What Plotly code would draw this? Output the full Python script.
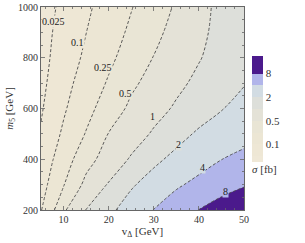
import numpy as np
import plotly.graph_objects as go

# ---------------- data ----------------
v_delta = [5, 7.5, 10, 15, 20, 25, 30, 35, 40, 45, 50]          # GeV
m5 = [200, 300, 400, 500, 600, 700, 800, 900, 1000]              # GeV
# sigma [fb]; rows follow m5, columns follow v_delta
sigma_fb = [
    [0.094, 0.207, 0.455, 1.02, 1.73, 2.69, 4.06, 5.73, 8.1, 11.0, 14.5],
    [0.060, 0.129, 0.238, 0.60, 1.05, 1.85, 2.64, 3.66, 4.73, 5.97, 7.5],
    [0.0416, 0.094, 0.159, 0.39, 0.68, 1.07, 1.73, 2.39, 3.07, 3.97, 4.7],
    [0.029, 0.065, 0.113, 0.26, 0.51, 0.74, 1.08, 1.59, 2.2, 2.73, 3.2],
    [0.0214, 0.048, 0.0857, 0.185, 0.354, 0.57, 0.79, 1.09, 1.46, 1.94, 2.5],
    [0.0165, 0.037, 0.066, 0.143, 0.268, 0.444, 0.63, 0.86, 1.16, 1.52, 1.93],
    [0.0131, 0.0295, 0.0525, 0.115, 0.207, 0.336, 0.51, 0.70, 0.96, 1.31, 1.72],
    [0.011, 0.0247, 0.0439, 0.0987, 0.17, 0.28, 0.43, 0.61, 0.86, 1.23, 1.62],
    [0.0095, 0.0214, 0.0344, 0.080, 0.145, 0.24, 0.36, 0.54, 0.80, 1.2, 1.54],
]
contour_levels = [0.025, 0.1, 0.25, 0.5, 1, 2, 4, 8]
level_labels = ["0.025", "0.1", "0.25", "0.5", "1", "2", "4", "8"]
colorbar_tick_values = [8, 2, 0.5, 0.1]
colorbar_tick_text = ["8", "2", "0.5", "0.1"]

# positions of the inline contour labels (data coords)
label_v = [7.7, 13.0, 18.7, 23.8, 29.8, 35.4, 40.7, 46.0]
label_m = [941, 862, 760, 661, 567, 460, 366, 272]

# band colours: below 0.025, 0.025-0.1, ..., 4-8, above 8
band_colors = ["#EFE8D7", "#EEE7D5", "#ECE6D4", "#E9E5D5", "#E4E2D7",
               "#DDDFDA", "#D2DCE3", "#B1B5EA", "#4B1A8C"]

# ---------------- map sigma to contour-level index ----------------
lv = np.log(np.array(contour_levels, dtype=float))
idx = np.arange(len(contour_levels), dtype=float)


def to_index(s):
    ls = np.log(np.asarray(s, dtype=float))
    out = np.interp(ls, lv, idx)
    lo = ls < lv[0]
    out[lo] = (ls[lo] - lv[0]) / (lv[1] - lv[0])
    hi = ls > lv[-1]
    out[hi] = idx[-1] + (ls[hi] - lv[-1]) / (lv[-1] - lv[-2])
    return out


z = to_index(sigma_fb)

# contour levels 0..8 (index 8 is an extra, empty level so the bar spans like the original)
cols = band_colors + [band_colors[-1]]
cs = []
for j, c in enumerate(cols):
    a = max(0.0, (j - 0.5) / 9)
    b = min(1.0, (j + 0.5) / 9)
    cs.append([a + (1e-6 if j > 0 else 0), c])
    cs.append([b, c])

cb_tickvals = [float(to_index([t])[0]) for t in colorbar_tick_values]

FONT = "Liberation Serif, Times New Roman, serif"
LINE_COL = "#4a4a4a"

fig = go.Figure()
# filled bands (no lines, so the colour bar has no line marks)
fig.add_trace(go.Contour(
    x=v_delta, y=m5, z=z,
    autocontour=False,
    contours=dict(start=0, end=8, size=1, coloring="fill", showlabels=False),
    line=dict(width=0, smoothing=1.0),
    colorscale=cs,
    hoverinfo="skip",
    colorbar=dict(
        x=1.04, xanchor="left", xpad=0,
        y=0.759, yanchor="top", ypad=0,
        len=0.605, lenmode="fraction",
        thickness=11, outlinewidth=0,
        tickvals=cb_tickvals, ticktext=colorbar_tick_text,
        ticks="", ticklabelposition="outside",
        tickfont=dict(family=FONT, size=11, color="#333333"),
        title=dict(text="<i>σ</i> [fb]", side="bottom",
                   font=dict(family=FONT, size=11, color="#333333")),
    ),
))
# dashed contour lines
fig.add_trace(go.Contour(
    x=v_delta, y=m5, z=z,
    autocontour=False,
    contours=dict(start=0, end=7, size=1, coloring="lines", showlabels=False),
    line=dict(color=LINE_COL, width=0.9, dash="3px,2px", smoothing=1.0),
    colorscale=[[0, LINE_COL], [1, LINE_COL]],
    showscale=False,
    hoverinfo="skip",
))

# inline contour labels
label_bg = ["#EFE8D7", "#EEE7D5", "#ECE6D4", "#E9E5D5", "#E4E2D7",
            "#DDDFDA", "#D2DCE3", "#B1B5EA"]
for t, xv, yv, bg in zip(level_labels, label_v, label_m, label_bg):
    fig.add_annotation(x=xv, y=yv, text=t, showarrow=False,
                       font=dict(family=FONT, size=10, color="#222222"),
                       bgcolor=bg, borderpad=0)

axis_common = dict(
    showline=True, mirror="ticks", linecolor="#666666", linewidth=1,
    ticks="inside", ticklen=4, tickcolor="#666666", tickwidth=0.8,
    showgrid=False, zeroline=False, automargin=False,
    tickfont=dict(family=FONT, size=10, color="#333333"),
)

fig.update_xaxes(range=[5, 50], tick0=10, dtick=10,
                 minor=dict(ticks="inside", dtick=2, ticklen=2, tickcolor="#666666"),
                 title=dict(text="v<sub>Δ</sub> [GeV]", standoff=2,
                            font=dict(family=FONT, size=11, color="#333333")),
                 **axis_common)
fig.update_yaxes(range=[200, 1000], tick0=200, dtick=200,
                 minor=dict(ticks="inside", dtick=50, ticklen=2, tickcolor="#666666"),
                 title=dict(text="<i>m</i><sub>5</sub> [GeV]", standoff=2,
                            font=dict(family=FONT, size=11, color="#333333")),
                 **axis_common)

fig.update_layout(
    width=305, height=243,
    margin=dict(l=41, r=61, t=7, b=33),
    paper_bgcolor="white", plot_bgcolor="white",
    font=dict(family=FONT, size=10, color="#333333"),
    showlegend=False,
)

fig.write_html("out.html",
               config={"displayModeBar": False, "staticPlot": True},
               post_script="document.body.style.margin='0';document.body.style.padding='0';")
